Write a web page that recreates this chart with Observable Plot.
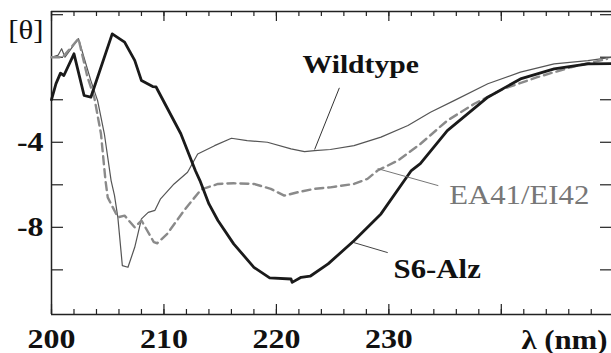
<!DOCTYPE html>
<html><head><meta charset="utf-8">
<script src="https://cdn.jsdelivr.net/npm/d3@7"></script>
<script src="https://cdn.jsdelivr.net/npm/@observablehq/plot@0.6"></script>
<style>
html,body{margin:0;padding:0;background:#fff;}
svg{display:block;}
</style>
</head><body><div id="chart"></div>
<script>
// Wavelength tick labels (nm) and y tick labels
const xTickLabels = [200, 210, 220, 230];
const yTickLabels = [-4, -8];

// Wildtype series
const wtX = [200.0,200.6,200.9,201.2,202.4,203.5,204.1,204.7,205.3,205.6,205.9,206.3,206.8,207.4,208.0,208.6,209.2,209.7,210.9,212.1,213.0,214.5,216.0,217.4,219.2,221.3,222.5,223.4,224.8,226.9,229.3,231.7,233.7,235.8,238.8,241.7,244.7,247.7,249.8];
const wtY = [0.0,0.1,0.4,0.0,0.87,-1.1,-2.04,-3.6,-5.8,-6.5,-7.53,-9.8,-9.88,-8.94,-7.6,-7.3,-7.2,-6.66,-5.96,-5.41,-4.55,-4.16,-3.81,-3.92,-4.0,-4.31,-4.44,-4.39,-4.34,-4.16,-3.76,-3.21,-2.59,-2.04,-1.25,-0.7,-0.31,-0.16,0.0];

// EA41/EI42 series
const eaX = [200.0,201.0,202.4,203.2,203.8,204.4,204.8,205.0,205.9,206.5,207.4,208.0,209.1,209.4,210.3,211.8,213.3,214.8,216.2,218.0,219.5,220.7,221.9,223.4,224.8,226.9,228.1,229.0,230.8,232.8,235.2,237.6,240.2,243.2,246.2,249.4];
const eaY = [0.0,0.0,0.87,-0.94,-1.88,-3.6,-5.8,-6.59,-7.53,-7.45,-8.0,-7.68,-8.7,-8.75,-8.3,-7.2,-6.22,-5.96,-5.93,-5.96,-6.19,-6.51,-6.35,-6.19,-6.12,-5.96,-5.72,-5.33,-4.86,-4.08,-2.98,-2.19,-1.49,-0.94,-0.47,-0.08];

// S6-Alz series
const s6X = [200.0,200.4,200.8,201.1,202.0,202.9,203.5,205.4,206.5,207.4,208.0,209.0,209.3,211.5,212.8,213.2,214.0,214.8,216.2,218.0,219.4,221.3,221.4,222.2,223.0,224.6,226.9,229.3,232.0,232.8,235.2,238.8,241.7,244.7,247.7,249.8];
const s6Y = [-2.0,-1.24,-0.75,-0.86,0.16,-1.8,-1.88,1.1,0.71,-0.15,-1.1,-1.38,-1.4,-3.6,-5.34,-5.8,-6.9,-7.68,-8.78,-9.88,-10.38,-10.43,-10.59,-10.35,-10.3,-9.72,-8.63,-7.37,-5.33,-5.0,-3.45,-1.88,-1.02,-0.55,-0.31,-0.3];

const wt = wtX.map((x, i) => ({x, y: wtY[i]}));
const ea = eaX.map((x, i) => ({x, y: eaY[i]}));
const s6 = s6X.map((x, i) => ({x, y: s6Y[i]}));

const W = 611, H = 353, mL = 51, mT = 11, mB = 39, mR = 0;
const innerW = W - mL - mR, innerH = H - mT - mB;
const xDomain = [200, 249.8], yDomain = [-12.1, 2.15];
const xMinor = d3.range(200, 250, 2), xMajor = d3.range(200, 250, 10);
const yTicksAll = d3.range(-10, 2.1, 2);
const serif = "Liberation Serif";

const plot = Plot.plot({
  width: W, height: H,
  marginLeft: mL, marginTop: mT, marginBottom: mB, marginRight: mR,
  x: {domain: xDomain, axis: null},
  y: {domain: yDomain, axis: null},
  style: {background: "#fff", overflow: "visible"},
  marks: [
    // frame (left, top, bottom)
    Plot.ruleX([xDomain[0]], {stroke: "#222", strokeWidth: 1.5}),
    Plot.ruleY([yDomain[1], yDomain[0]], {stroke: "#222", strokeWidth: 1.5}),
    // bottom ticks
    Plot.ruleX(xMinor, {x: d => d, insetTop: innerH - 5, stroke: "#222", strokeWidth: 1.2}),
    Plot.ruleX(xMajor, {x: d => d, insetTop: innerH - 10, stroke: "#222", strokeWidth: 1.2}),
    // top ticks
    Plot.ruleX(xMinor, {x: d => d, insetBottom: innerH - 5, stroke: "#222", strokeWidth: 1.2}),
    Plot.ruleX(xMajor, {x: d => d, insetBottom: innerH - 10, stroke: "#222", strokeWidth: 1.2}),
    // left ticks
    Plot.ruleY(yTicksAll, {y: d => d, insetRight: innerW - 12, stroke: "#222", strokeWidth: 1.2}),
    // right ticks
    Plot.ruleY(yTicksAll, {y: d => d, insetLeft: innerW - 11, stroke: "#222", strokeWidth: 1.2}),
    // curves
    Plot.line(wt, {x: "x", y: "y", stroke: "#555", strokeWidth: 1.2}),
    Plot.line(ea, {x: "x", y: "y", stroke: "#8a8a8a", strokeWidth: 2.4, strokeDasharray: "8,5"}),
    Plot.line(s6, {x: "x", y: "y", stroke: "#1a1a1a", strokeWidth: 2.8, strokeLinejoin: "round"}),
    // pointer lines
    Plot.link([0], {x1: () => 225.6, y1: () => -1.44, x2: () => 223.4, y2: () => -4.34, stroke: "#333", strokeWidth: 1}),
    Plot.link([0], {x1: () => 229.0, y1: () => -5.24, x2: () => 234.4, y2: () => -6.04, stroke: "#777", strokeWidth: 1}),
    Plot.link([0], {x1: () => 226.9, y1: () => -8.72, x2: () => 229.9, y2: () => -9.19, stroke: "#444", strokeWidth: 1}),
    // series labels
    Plot.text(["Wildtype"], {x: () => 227.5, y: () => -0.72, text: d => d, textAnchor: "middle", lineAnchor: "bottom", fontSize: 26, fontWeight: "bold", fontFamily: serif, fill: "#111"}),
    Plot.text(["EA41/EI42"], {x: () => 241.6, y: () => -6.88, text: d => d, textAnchor: "middle", lineAnchor: "bottom", fontSize: 27, fontFamily: serif, fill: "#777"}),
    Plot.text(["S6-Alz"], {x: () => 234.3, y: () => -10.37, text: d => d, textAnchor: "middle", lineAnchor: "bottom", fontSize: 27, fontWeight: "bold", fontFamily: serif, fill: "#111"}),
    // x tick labels
    Plot.text(xTickLabels, {x: d => d, text: d => String(d), frameAnchor: "bottom", lineAnchor: "bottom", dy: 33, fontSize: 28, fontWeight: "bold", fontFamily: serif, fill: "#111"}),
    // y tick labels
    Plot.text(yTickLabels, {y: d => d, text: d => String(d), frameAnchor: "left", textAnchor: "end", lineAnchor: "middle", dx: -8, fontSize: 28, fontWeight: "bold", fontFamily: serif, fill: "#111"}),
    // axis titles
    Plot.text(["[θ]"], {text: d => d, frameAnchor: "top-left", textAnchor: "end", lineAnchor: "bottom", dx: -8, dy: 27, fontSize: 27, fontFamily: serif, fill: "#111"}),
    Plot.text(["λ (nm)"], {text: d => d, frameAnchor: "bottom-right", textAnchor: "end", lineAnchor: "bottom", dx: -4, dy: 34, fontSize: 27, fontWeight: "bold", fontFamily: serif, fill: "#111"})
  ]
});
document.getElementById("chart").appendChild(plot);
// horizontal stretch of the scanned lettering
d3.select(plot).selectAll("text").each(function() {
  const w = this.getComputedTextLength();
  if (w > 0) {
    this.setAttribute("textLength", (w * 1.14).toFixed(1));
    this.setAttribute("lengthAdjust", "spacingAndGlyphs");
  }
});
</script>
</body></html>
